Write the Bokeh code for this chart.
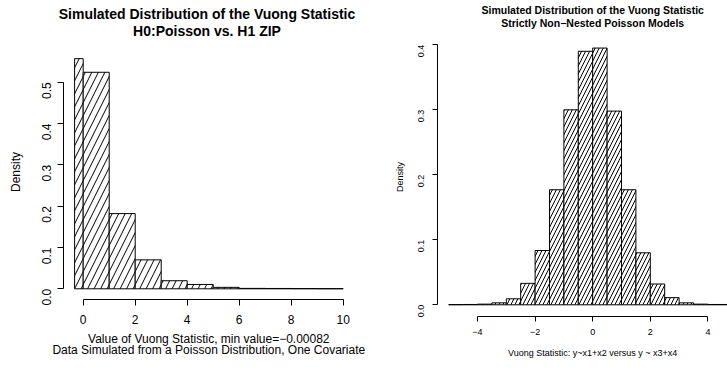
import math
from bokeh.plotting import figure
from bokeh.models import Range1d, FixedTicker, PrintfTickFormatter, LinearAxis, Label
from bokeh.embed import file_html
from bokeh.resources import INLINE

FONT = "Liberation Sans"

# ---------------- data: left panel ----------------
left_breaks = [-0.33, 0, 1, 2, 3, 4, 5, 6, 7, 8, 9, 10]
left_density = [0.557, 0.524, 0.182, 0.070, 0.0195, 0.0105, 0.0035, 0.001, 0.0008, 0.0005, 0.0003]
left_xticks = [0, 2, 4, 6, 8, 10]
left_yticks = [0.0, 0.1, 0.2, 0.3, 0.4, 0.5]
left_title = ["Simulated Distribution of the Vuong Statistic", "H0:Poisson vs. H1 ZIP"]
left_xlabel = ["Value of Vuong Statistic, min value=\u22120.00082",
               "Data Simulated from a Poisson Distribution, One Covariate"]
left_ylabel = "Density"

# ---------------- data: right panel ----------------
right_breaks = [-5.0, -4.5, -4.0, -3.5, -3.0, -2.5, -2.0, -1.5, -1.0, -0.5, 0.0,
                0.5, 1.0, 1.5, 2.0, 2.5, 3.0, 3.5, 4.0, 4.5, 5.0]
right_density = [0.0003, 0.0005, 0.001, 0.003, 0.0092, 0.033, 0.0835, 0.177, 0.300, 0.390,
                 0.395, 0.298, 0.177, 0.080, 0.032, 0.011, 0.003, 0.001, 0.0005, 0.0005]
right_xticks = [-4, -2, 0, 2, 4]
right_xticklabels = ["\u22124", "\u22122", "0", "2", "4"]
right_yticks = [0.0, 0.1, 0.2, 0.3, 0.4]
right_title = ["Simulated Distribution of the Vuong Statistic", "Strictly Non\u2212Nested Poisson Models"]
right_xlabel = "Vuong Statistic: y~x1+x2 versus y ~ x3+x4"
right_ylabel = "Density"

W, H = 727, 371

# One canvas holds both panels; each panel has its own pair of ranges.
p = figure(width=W, height=H,
           x_range=Range1d(-3.1808, 24.7808), y_range=Range1d(-0.20015, 0.69772),
           x_axis_type=None, y_axis_type=None, min_border=0,
           min_border_left=0, min_border_right=0, min_border_top=0, min_border_bottom=0,
           output_backend="svg", toolbar_location=None, tools="")
p.extra_x_ranges = {"rx": Range1d(-20.5625, 4.6806)}
p.extra_y_ranges = {"ry": Range1d(-0.10262, 0.46815)}
p.outline_line_color = None
p.background_fill_color = "white"
p.border_fill_color = "white"

# bars
p.quad(left=left_breaks[:-1], right=left_breaks[1:], bottom=0, top=left_density,
       fill_color="white", line_color="black", line_width=1,
       hatch_pattern="/", hatch_color="black", hatch_scale=13, hatch_weight=1)
p.quad(left=right_breaks[:-1], right=right_breaks[1:], bottom=0, top=right_density,
       x_range_name="rx", y_range_name="ry",
       fill_color="white", line_color="black", line_width=1,
       hatch_pattern="/", hatch_color="black", hatch_scale=8, hatch_weight=1)


def make_axis(loc, bounds, ticks, fs, tick_len, standoff, xr="default", yr="default",
              vertical=False, overrides=None):
    ax = LinearAxis(fixed_location=loc, bounds=bounds, ticker=FixedTicker(ticks=ticks),
                    x_range_name=xr, y_range_name=yr)
    ax.axis_line_color = "black"
    ax.axis_line_width = 1
    ax.major_tick_line_color = "black"
    ax.major_tick_out = tick_len
    ax.major_tick_in = 0
    ax.minor_tick_out = 0
    ax.minor_tick_in = 0
    ax.minor_tick_line_color = None
    ax.major_label_text_font = FONT
    ax.major_label_text_font_size = fs
    ax.major_label_text_color = "black"
    ax.major_label_standoff = standoff
    if vertical:
        ax.formatter = PrintfTickFormatter(format="%.1f")
        ax.major_label_orientation = math.pi / 2
    if overrides:
        ax.major_label_overrides = overrides
    return ax


# left panel axes (plot region: x from -0.758, y from -0.026)
p.add_layout(make_axis(-0.0259, (0, 10), left_xticks, "12px", 6, 10), "below")
p.add_layout(make_axis(-0.7577, (0, 0.5), left_yticks, "12px", 6, 11, vertical=True), "left")
# right panel axes
p.add_layout(make_axis(-0.018, (-4, 4), right_xticks, "9px", 5, 8, xr="rx", yr="ry",
                       overrides={t: s for t, s in zip(right_xticks, right_xticklabels)}), "below")
p.add_layout(make_axis(-5.389, (0, 0.4), right_yticks, "9px", 5, 11, xr="rx", yr="ry",
                       vertical=True), "left")


def label(text, x, y_mid, size, bold=False, angle=0.0):
    # x in canvas pixels, y_mid = text middle measured from the canvas top
    p.add_layout(Label(x=x, y=H - y_mid, x_units="screen", y_units="screen", text=text,
                       angle=angle, text_align="center", text_baseline="middle",
                       text_font=FONT, text_font_size=size,
                       text_font_style="bold" if bold else "normal", text_color="black"))


# left texts
label(left_title[0], 206.5, 13.5, "14px", bold=True)
label(left_title[1], 206.5, 30.9, "14px", bold=True)
label(left_xlabel[0], 208.3, 338.5, "12px")
label(left_xlabel[1], 208.3, 349.1, "12px")
p.add_layout(Label(x=15.3, y=H - 171.5, x_units="screen", y_units="screen", text=left_ylabel,
                   angle=math.pi / 2, text_align="center", text_baseline="middle",
                   text_font=FONT, text_font_size="12px", text_color="black"))
# right texts
label(right_title[0], 592.2, 9.1, "10.5px", bold=True)
label(right_title[1], 592.2, 22.7, "10.5px", bold=True)
label(right_xlabel, 592.2, 352.4, "9px")
p.add_layout(Label(x=399.2, y=H - 176.5, x_units="screen", y_units="screen", text=right_ylabel,
                   angle=math.pi / 2, text_align="center", text_baseline="middle",
                   text_font=FONT, text_font_size="9px", text_color="black"))

open("out.html", "w").write(file_html(p, INLINE))
